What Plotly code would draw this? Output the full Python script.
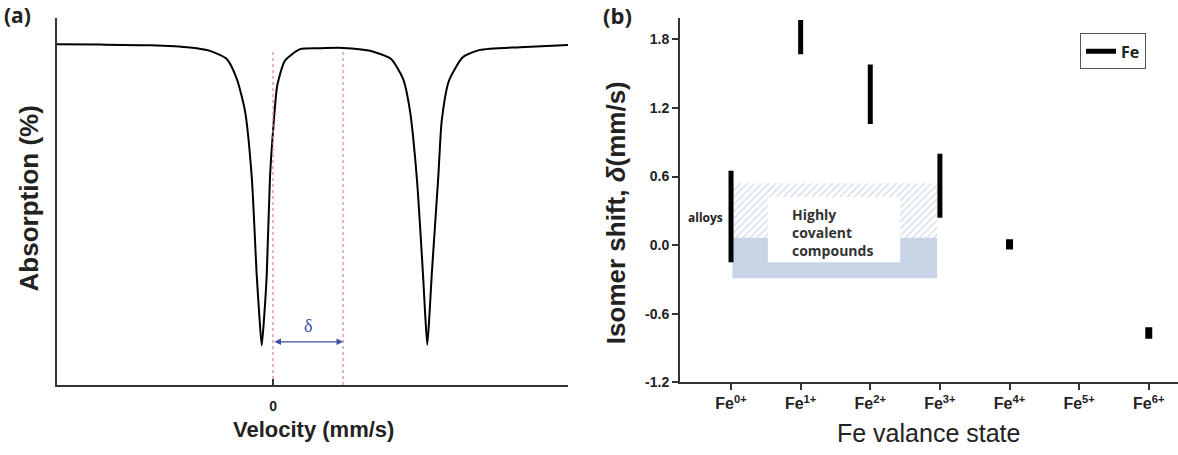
import plotly.graph_objects as go

# ---------------- Panel (a): Mössbauer doublet ----------------
velocity = [-3.086, -2.471, -1.757, -1.186, -0.900, -0.661, -0.519, -0.400, -0.304, -0.233,
            -0.196, -0.161, -0.125, -0.090, -0.043, 0.004, 0.061, 0.171, 0.386, 0.671,
            1.000, 1.386, 1.686, 1.857, 1.957, 2.053, 2.143, 2.173, 2.204, 2.236,
            2.267, 2.361, 2.410, 2.514, 2.714, 2.957, 3.529, 4.214]
absorption = [100.0, 99.91, 99.71, 99.05, 98.07, 95.68, 89.91, 80.40, 61.10, 32.28,
              20.5, 11.61, 20.5, 32.28, 61.10, 75.50, 87.98, 95.19, 98.56, 98.85,
              98.93, 98.07, 95.68, 89.91, 80.40, 61.10, 32.28, 21.0, 11.82, 21.0,
              32.28, 61.10, 77.52, 89.34, 96.25, 98.36, 99.14, 99.80]
zero_velocity = 0.0
isomer_shift = 1.0
dash_top = 98.56
arrow_level = 12.7

# ---------------- Panel (b): isomer shift ranges per Fe valence state ----------------
fe_states = ["Fe<sup>0+</sup>", "Fe<sup>1+</sup>", "Fe<sup>2+</sup>", "Fe<sup>3+</sup>",
             "Fe<sup>4+</sup>", "Fe<sup>5+</sup>", "Fe<sup>6+</sup>"]
shift_low = [-0.15, 1.67, 1.06, 0.24, -0.04, None, -0.82]
shift_high = [0.65, 1.97, 1.58, 0.80, 0.05, None, -0.72]
y_ticks = [-1.2, -0.6, 0.0, 0.6, 1.2, 1.8]
y_ticktext = ["-1.2", "-0.6", "0.0", "0.6", "1.2", "1.8"]
# covalent compounds region (state index, isomer shift)
cov_x = [0.02, 2.96]
cov_hatch_y = [0.063, 0.54]
cov_solid_y = [-0.29, 0.063]
cov_inner_x = [0.53, 2.43]
cov_inner_y = [-0.15, 0.42]

AX = "#333333"
SANS = "Liberation Sans"
fig = go.Figure()

# Panel a curve
fig.add_trace(go.Scatter(x=velocity, y=absorption, mode="lines", line=dict(color="black", width=2, shape="spline", smoothing=0.6),
                         xaxis="x", yaxis="y", showlegend=False, hoverinfo="skip"))
for v in [zero_velocity, isomer_shift]:
    fig.add_trace(go.Scatter(x=[v, v], y=[0, dash_top], mode="lines",
                             line=dict(color="#e0808f", width=1.2, dash="3px,3px"),
                             xaxis="x", yaxis="y", showlegend=False, hoverinfo="skip"))

# Panel b regions
def rect(x0, x1, y0, y1):
    return [x0, x1, x1, x0, x0], [y0, y0, y1, y1, y0]

hx, hy = rect(cov_x[0], cov_x[1], cov_hatch_y[0], cov_hatch_y[1])
fig.add_trace(go.Scatter(x=hx, y=hy, mode="lines", line=dict(width=0), fill="toself",
                         fillcolor="white",
                         fillpattern=dict(shape="/", fgcolor="#b9c7dc", bgcolor="white", size=5, solidity=0.35),
                         xaxis="x2", yaxis="y2", showlegend=False, hoverinfo="skip"))
sx, sy = rect(cov_x[0], cov_x[1], cov_solid_y[0], cov_solid_y[1])
fig.add_trace(go.Scatter(x=sx, y=sy, mode="lines", line=dict(width=0), fill="toself",
                         fillcolor="#c7d4e6", xaxis="x2", yaxis="y2", showlegend=False, hoverinfo="skip"))
ix, iy = rect(cov_inner_x[0], cov_inner_x[1], cov_inner_y[0], cov_inner_y[1])
fig.add_trace(go.Scatter(x=ix, y=iy, mode="lines", line=dict(width=0), fill="toself",
                         fillcolor="white", xaxis="x2", yaxis="y2", showlegend=False, hoverinfo="skip"))

# Panel b bars
bx_tall, by_tall, bx_small, by_small = [], [], [], []
for i, (lo, hi) in enumerate(zip(shift_low, shift_high)):
    if lo is None:
        continue
    if hi - lo > 0.2:
        bx_tall += [i, i, None]; by_tall += [lo, hi, None]
    else:
        bx_small += [i, i, None]; by_small += [lo, hi, None]
fig.add_trace(go.Scatter(x=bx_tall, y=by_tall, mode="lines", line=dict(color="black", width=5),
                         name="Fe", xaxis="x2", yaxis="y2", showlegend=True, hoverinfo="skip"))
fig.add_trace(go.Scatter(x=bx_small, y=by_small, mode="lines", line=dict(color="black", width=7),
                         xaxis="x2", yaxis="y2", showlegend=False, hoverinfo="skip"))

fig.update_layout(
    width=1178, height=455, margin=dict(l=0, r=0, t=0, b=0),
    paper_bgcolor="white", plot_bgcolor="white",
    xaxis=dict(domain=[57/1178, 568/1178], range=[-3.086, 4.214], showgrid=False, zeroline=False,
               showline=True, linecolor=AX, linewidth=2, tickvals=[0], ticktext=["0"],
               ticks="inside", ticklen=6, tickwidth=1.5, tickcolor=AX, ticklabelstandoff=7,
               tickfont=dict(family=SANS, size=14, color="#222", weight="bold")),
    yaxis=dict(domain=[(455-392)/455, (455-18)/455], range=[0, 107.8], showgrid=False, zeroline=False,
               showline=True, linecolor=AX, linewidth=2, showticklabels=False, ticks=""),
    xaxis2=dict(domain=[680/1178, 1.0], range=[-0.733, 6.42], showgrid=False, zeroline=False,
                showline=True, linecolor=AX, linewidth=2, tickvals=list(range(7)), ticktext=fe_states,
                ticks="outside", ticklen=6, tickwidth=1.5, tickcolor=AX, anchor="y2",
                tickfont=dict(family=SANS, size=16, color="#222", weight="bold")),
    yaxis2=dict(domain=[(455-389)/455, (455-18)/455], range=[-1.2, 1.99], showgrid=False, zeroline=False,
                showline=True, linecolor=AX, linewidth=2, tickvals=y_ticks, ticktext=y_ticktext,
                ticks="outside", ticklen=6, tickwidth=1.5, tickcolor=AX, anchor="x2",
                tickfont=dict(family=SANS, size=14, color="#222", weight="bold")),
    legend=dict(x=1080/1178, y=(455-34)/455, xanchor="left", yanchor="top",
                bordercolor="#555", borderwidth=1, bgcolor="white", itemwidth=30,
                font=dict(family="Open Sans", size=16, color="#222", weight="bold"),
                tracegroupgap=0),
)

# arrow for delta
fig.add_annotation(x=isomer_shift, y=arrow_level, ax=zero_velocity, ay=arrow_level, xref="x", yref="y",
                   axref="x", ayref="y", showarrow=True, arrowhead=2, arrowside="end+start",
                   arrowsize=1, arrowwidth=1.3, arrowcolor="#3b4ea8", text="")
fig.add_annotation(x=(zero_velocity+isomer_shift)/2, y=arrow_level+1.2, xref="x", yref="y", yanchor="bottom",
                   text="δ", showarrow=False, font=dict(family="Liberation Serif", size=18, color="#3b4ea8"))

def pa(text, x, y, size, angle=0, family=SANS, color="#222", weight="bold", xanchor="center"):
    fig.add_annotation(x=x/1178, y=1-y/455, xref="paper", yref="paper", text=text, showarrow=False,
                       textangle=angle, xanchor=xanchor, yanchor="middle",
                       font=dict(family=family, size=size, color=color, weight=weight))

pa("(a)", 17, 15, 21, family="Open Sans")
pa("(b)", 617, 15, 22, family="Open Sans")
pa("Absorption (%)", 29, 202, 26, angle=-90)
pa("Velocity (mm/s)", 313, 437, 22)
pa("Isomer shift, <i>δ</i>(mm/s)", 616, 217, 26, angle=-90)
pa("Fe valance state", 928, 441, 25, weight="normal")

# Text in panel b data coordinates
fig.add_annotation(x=-0.37, y=0.245, xref="x2", yref="y2", text="alloys", showarrow=False,
                   font=dict(family="Open Sans", size=12, color="#222", weight="bold"))
fig.add_annotation(x=0.84, y=0.11, xref="x2", yref="y2", xanchor="left",
                   text="Highly<br>covalent<br>compounds", align="left", showarrow=False,
                   font=dict(family="Open Sans", size=14, color="#333", weight="bold"))

fig.write_html("out.html")
